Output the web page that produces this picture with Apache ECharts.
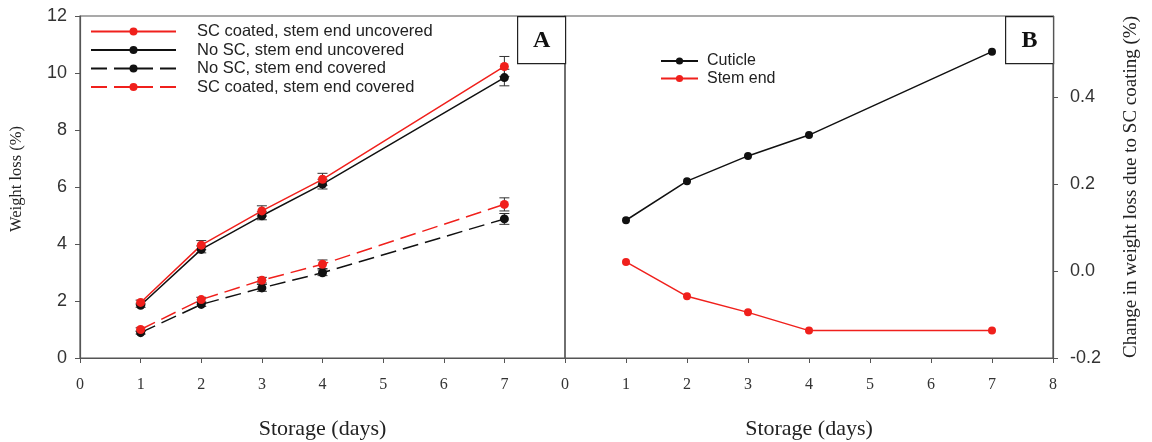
<!DOCTYPE html>
<html>
<head>
<meta charset="utf-8">
<script src="https://cdn.jsdelivr.net/npm/echarts@6/dist/echarts.min.js"></script>
<style>
  html, body { margin: 0; padding: 0; background: #fff; }
  #chart { width: 1152px; height: 442px; }
</style>
</head>
<body>
<div id="chart"></div>
<script>
// Storage days sampled
const days = [1, 2, 3, 4, 7];

// Panel A: weight loss (%)
const scUncovered   = [1.95, 3.96, 5.16, 6.27, 10.23];
const noScUncovered = [1.85, 3.81, 4.99, 6.10, 9.84];
const noScCovered   = [0.89, 1.88, 2.46, 2.99, 4.88];
const scCovered     = [1.00, 2.05, 2.73, 3.29, 5.39];

// Panel A: standard errors
const scUncoveredErr   = [0.08, 0.16, 0.18, 0.21, 0.35];
const noScUncoveredErr = [0.07, 0.12, 0.14, 0.17, 0.29];
const noScCoveredErr   = [0.05, 0.07, 0.12, 0.10, 0.19];
const scCoveredErr     = [0.06, 0.08, 0.10, 0.15, 0.23];

// Panel B: change in weight loss due to SC coating (%)
const cuticle = [0.117, 0.207, 0.265, 0.313, 0.505];
const stemEnd = [0.021, -0.058, -0.095, -0.137, -0.137];

// Axis ticks
const xTicksA = [0, 1, 2, 3, 4, 5, 6, 7];
const xTicksB = [0, 1, 2, 3, 4, 5, 6, 7, 8];
const yTicksB = [-0.2, 0.0, 0.2, 0.4];

const RED = '#f0201c';
const BLACK = '#111111';
const AXIS = '#555555';
const SANS = 'Liberation Sans, Arial, sans-serif';
const SERIF = 'Liberation Serif, Times New Roman, serif';

const pairs = (vals) => days.map((d, i) => [d, vals[i]]);
const errPairs = (vals, errs) => days.map((d, i) => [d, vals[i] - errs[i], vals[i] + errs[i]]);

function errorBarItem(params, api) {
  const x = api.value(0);
  const lo = api.coord([x, api.value(1)]);
  const hi = api.coord([x, api.value(2)]);
  const cap = 5;
  const style = { stroke: '#333', lineWidth: 1 };
  return {
    type: 'group',
    children: [
      { type: 'line', shape: { x1: lo[0], y1: lo[1], x2: hi[0], y2: hi[1] }, style },
      { type: 'line', shape: { x1: lo[0] - cap, y1: lo[1], x2: lo[0] + cap, y2: lo[1] }, style },
      { type: 'line', shape: { x1: hi[0] - cap, y1: hi[1], x2: hi[0] + cap, y2: hi[1] }, style }
    ]
  };
}

function errorSeries(vals, errs) {
  return {
    type: 'custom', xAxisIndex: 0, yAxisIndex: 0, z: 1, silent: true,
    renderItem: errorBarItem, data: errPairs(vals, errs)
  };
}

function lineSeries(name, vals, color, dashed, axisIdx, size) {
  return {
    name, type: 'line', xAxisIndex: axisIdx, yAxisIndex: axisIdx, z: 3,
    data: pairs(vals), symbol: 'circle', symbolSize: size,
    itemStyle: { color },
    lineStyle: { color, width: 1.5, type: dashed ? [16, 7] : 'solid' },
    animation: false
  };
}

const boxLabel = (left, text) => ({
  type: 'group', left, top: 16,
  children: [
    { type: 'rect', shape: { x: 0, y: 0, width: 48, height: 47 },
      style: { fill: '#fff', stroke: '#222', lineWidth: 1.2 } },
    { type: 'text', x: 24, y: 24,
      style: { text, font: 'bold 24px ' + SERIF, fill: '#111', align: 'center', verticalAlign: 'middle' } }
  ]
});

const xAxisBase = (gridIndex, ticks) => ({
  gridIndex, type: 'value', min: 0, max: 8, interval: 1,
  name: 'Storage (days)', nameLocation: 'middle', nameGap: 60,
  nameTextStyle: { fontFamily: SERIF, fontSize: 22, color: '#222' },
  axisLine: { onZero: false, lineStyle: { color: AXIS, width: 1.2 } },
  axisTick: { length: 5, lineStyle: { color: AXIS } },
  axisLabel: {
    margin: 19, fontFamily: SERIF, fontSize: 16, color: '#333',
    customValues: ticks, formatter: (v) => String(v)
  },
  splitLine: { show: false }
});

const chart = echarts.init(document.getElementById('chart'), null, { renderer: 'canvas' });

chart.setOption({
  backgroundColor: '#fff',
  animation: false,
  grid: [
    { left: 80, top: 16, width: 485, height: 342, show: true, borderColor: AXIS, borderWidth: 1.2,
      outerBoundsMode: 'none', containLabel: false },
    { left: 565, top: 16, width: 488, height: 342, show: true, borderColor: AXIS, borderWidth: 1.2,
      outerBoundsMode: 'none', containLabel: false }
  ],
  legend: [
    {
      data: ['SC coated, stem end uncovered', 'No SC, stem end uncovered',
             'No SC, stem end covered', 'SC coated, stem end covered'],
      orient: 'vertical', left: 85, top: 18, itemWidth: 85, itemHeight: 10, itemGap: 1.5,
      textStyle: { fontFamily: SANS, fontSize: 16.5, color: '#222', padding: [0, 0, 0, 16] },
      selectedMode: false
    },
    {
      data: ['Cuticle', 'Stem end'],
      orient: 'vertical', left: 655, top: 48, itemWidth: 37, itemHeight: 9, itemGap: 1.5,
      textStyle: { fontFamily: SANS, fontSize: 16, color: '#222', padding: [0, 0, 0, 4] },
      selectedMode: false
    }
  ],
  xAxis: [xAxisBase(0, xTicksA), xAxisBase(1, xTicksB)],
  yAxis: [
    {
      gridIndex: 0, type: 'value', min: 0, max: 12, interval: 2,
      name: 'Weight loss (%)', nameLocation: 'middle', nameGap: 55, nameRotate: 90,
      nameTextStyle: { fontFamily: SERIF, fontSize: 16.5, color: '#222', padding: [0, 0, 0, 16] },
      axisLine: { show: true, onZero: false, lineStyle: { color: AXIS, width: 1.2 } },
      axisTick: { show: true, length: 5, lineStyle: { color: AXIS } },
      axisLabel: { margin: 13, fontFamily: SANS, fontSize: 18, color: '#333' },
      splitLine: { show: false }
    },
    {
      gridIndex: 1, type: 'value', position: 'right', min: -0.2, max: 0.587,
      name: 'Change in weight loss due to SC coating (%)', nameLocation: 'middle',
      nameGap: 69, nameRotate: 90,
      nameTextStyle: { fontFamily: SERIF, fontSize: 19, color: '#222' },
      axisLine: { show: true, onZero: false, lineStyle: { color: AXIS, width: 1.2 } },
      axisTick: { show: true, length: 5, lineStyle: { color: AXIS }, customValues: yTicksB },
      axisLabel: {
        margin: 17, fontFamily: SANS, fontSize: 18, color: '#333',
        customValues: yTicksB, formatter: (v) => v.toFixed(1)
      },
      splitLine: { show: false }
    }
  ],
  graphic: [boxLabel(517, 'A'), boxLabel(1005, 'B')],
  series: [
    errorSeries(scUncovered, scUncoveredErr),
    errorSeries(noScUncovered, noScUncoveredErr),
    errorSeries(noScCovered, noScCoveredErr),
    errorSeries(scCovered, scCoveredErr),
    lineSeries('No SC, stem end uncovered', noScUncovered, BLACK, false, 0, 9),
    lineSeries('No SC, stem end covered', noScCovered, BLACK, true, 0, 9),
    lineSeries('SC coated, stem end uncovered', scUncovered, RED, false, 0, 9),
    lineSeries('SC coated, stem end covered', scCovered, RED, true, 0, 9),
    lineSeries('Cuticle', cuticle, BLACK, false, 1, 8),
    lineSeries('Stem end', stemEnd, RED, false, 1, 8)
  ]
});
</script>
</body>
</html>
